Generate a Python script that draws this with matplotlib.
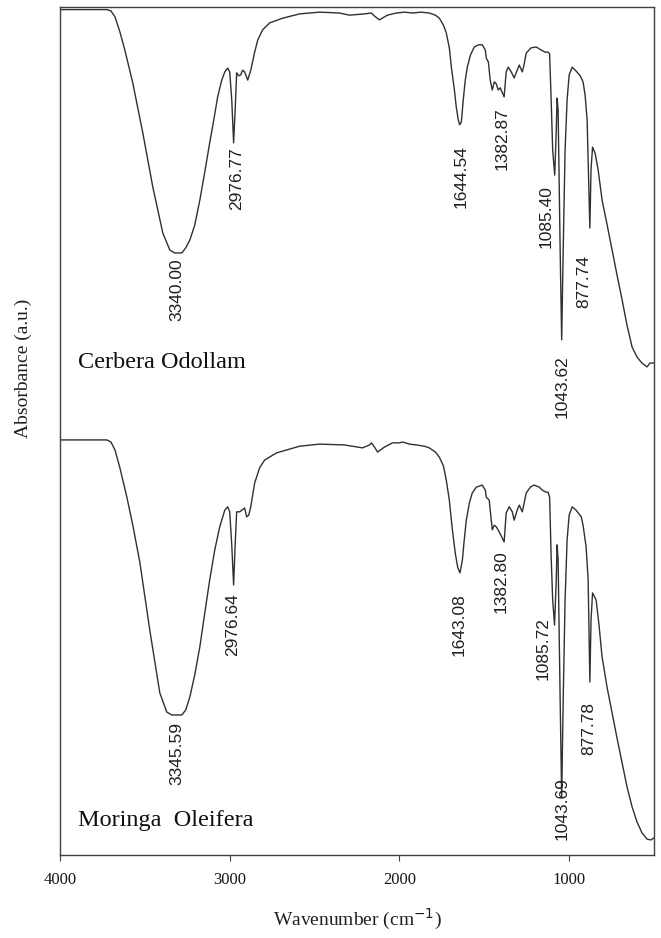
import matplotlib
matplotlib.use("Agg")
import matplotlib.pyplot as plt

# ---------------- data ----------------
wn_top = [4000, 3724, 3700, 3676, 3647, 3618, 3571, 3512, 3453, 3394, 3353, 3324, 3282, 3259,
          3235, 3206, 3176, 3147, 3118, 3094, 3071, 3047, 3029, 3012, 3000, 2988, 2977, 2968,
          2959, 2947, 2935, 2924, 2912, 2894, 2876, 2853, 2835, 2806, 2765, 2688, 2588, 2471,
          2353, 2294, 2206, 2165, 2147, 2118, 2071, 2018, 1971, 1924, 1871, 1824, 1788, 1765,
          1741, 1724, 1706, 1694, 1676, 1665, 1653, 1645, 1635, 1624, 1612, 1600, 1582, 1559,
          1535, 1512, 1494, 1488, 1476, 1465, 1453, 1441, 1429, 1418, 1406, 1383, 1371, 1359,
          1341, 1324, 1306, 1294, 1276, 1265, 1253, 1224, 1194, 1165, 1141, 1124, 1115, 1106,
          1097, 1085, 1076, 1071, 1065, 1053, 1044, 1035, 1024, 1012, 1000, 982, 959, 935, 918,
          906, 894, 885, 878, 871, 862, 847, 829, 806, 776, 747, 718, 688, 659, 629, 600, 571,
          541, 524, 500]
abs_top = [0.994, 0.994, 0.991, 0.977, 0.942, 0.900, 0.823, 0.707, 0.581, 0.474, 0.435, 0.428,
           0.428, 0.440, 0.458, 0.493, 0.551, 0.616, 0.684, 0.737, 0.791, 0.830, 0.849, 0.858,
           0.849, 0.784, 0.684, 0.760, 0.847, 0.840, 0.842, 0.853, 0.849, 0.830, 0.853, 0.895,
           0.923, 0.947, 0.963, 0.974, 0.984, 0.988, 0.986, 0.981, 0.984, 0.986, 0.979, 0.970,
           0.981, 0.986, 0.988, 0.986, 0.988, 0.986, 0.981, 0.974, 0.958, 0.940, 0.905, 0.860,
           0.807, 0.767, 0.737, 0.726, 0.733, 0.784, 0.830, 0.860, 0.888, 0.907, 0.912, 0.912,
           0.900, 0.881, 0.872, 0.830, 0.807, 0.826, 0.821, 0.807, 0.812, 0.791, 0.849, 0.860,
           0.849, 0.835, 0.853, 0.865, 0.849, 0.867, 0.893, 0.905, 0.907, 0.900, 0.895, 0.895,
           0.891, 0.784, 0.667, 0.609, 0.712, 0.788, 0.760, 0.435, 0.226, 0.435, 0.667, 0.784,
           0.842, 0.860, 0.851, 0.840, 0.826, 0.795, 0.737, 0.598, 0.486, 0.623, 0.674, 0.660,
           0.621, 0.551, 0.493, 0.435, 0.377, 0.319, 0.260, 0.209, 0.186, 0.172, 0.163, 0.172,
           0.172]

wn_bot = [4000, 3724, 3700, 3676, 3647, 3606, 3571, 3529, 3471, 3412, 3371, 3341, 3282, 3259,
          3235, 3206, 3176, 3147, 3118, 3088, 3059, 3029, 3012, 3000, 2988, 2977, 2968, 2959,
          2941, 2929, 2912, 2900, 2888, 2876, 2853, 2824, 2794, 2724, 2588, 2471, 2324, 2218,
          2176, 2165, 2147, 2129, 2088, 2041, 2000, 1982, 1941, 1900, 1853, 1824, 1788, 1765,
          1741, 1724, 1706, 1688, 1671, 1656, 1643, 1629, 1618, 1606, 1588, 1571, 1547, 1512,
          1494, 1488, 1471, 1459, 1453, 1441, 1429, 1412, 1394, 1383, 1371, 1353, 1335, 1324,
          1306, 1294, 1276, 1265, 1253, 1229, 1206, 1176, 1159, 1135, 1124, 1115, 1106, 1097,
          1086, 1076, 1071, 1065, 1053, 1044, 1035, 1024, 1012, 1000, 982, 959, 929, 918, 900,
          888, 878, 871, 862, 841, 824, 806, 776, 747, 718, 688, 659, 629, 600, 571, 541, 518,
          500]
abs_bot = [0.993, 0.993, 0.988, 0.969, 0.926, 0.856, 0.789, 0.699, 0.538, 0.388, 0.342, 0.335,
           0.335, 0.347, 0.378, 0.431, 0.498, 0.579, 0.658, 0.730, 0.785, 0.825, 0.833, 0.821,
           0.742, 0.646, 0.742, 0.821, 0.821, 0.825, 0.830, 0.809, 0.813, 0.833, 0.890, 0.926,
           0.945, 0.962, 0.978, 0.983, 0.981, 0.974, 0.981, 0.986, 0.976, 0.964, 0.976, 0.986,
           0.986, 0.988, 0.983, 0.981, 0.978, 0.974, 0.964, 0.952, 0.931, 0.897, 0.849, 0.778,
           0.722, 0.687, 0.675, 0.706, 0.754, 0.801, 0.842, 0.866, 0.880, 0.885, 0.873, 0.856,
           0.849, 0.801, 0.778, 0.789, 0.785, 0.773, 0.758, 0.749, 0.818, 0.833, 0.821, 0.801,
           0.825, 0.837, 0.821, 0.842, 0.866, 0.880, 0.885, 0.880, 0.873, 0.868, 0.868, 0.856,
           0.713, 0.610, 0.550, 0.658, 0.742, 0.706, 0.371, 0.139, 0.371, 0.610, 0.754, 0.813,
           0.833, 0.825, 0.809, 0.789, 0.737, 0.658, 0.414, 0.562, 0.627, 0.610, 0.550, 0.474,
           0.400, 0.340, 0.280, 0.220, 0.163, 0.115, 0.079, 0.053, 0.038, 0.036, 0.041]

peaks_top = ["3340.00", "2976.77", "1644.54", "1382.87", "1085.40", "1043.62", "877.74"]
peaks_bot = ["3345.59", "2976.64", "1643.08", "1382.80", "1085.72", "1043.69", "877.78"]
sample_names = ["Cerbera Odollam", "Moringa  Oleifera"]
xticks = [4000, 3000, 2000, 1000]

# ---------------- layout (label placement) ----------------
lab_x_top = [3312, 2959, 1635, 1394, 1135, 1041, 912]
lab_y_top = [0.416, 0.674, 0.679, 0.767, 0.586, 0.191, 0.423]
lab_x_bot = [3312, 2982, 1647, 1400, 1153, 1041, 882]
lab_y_bot = [0.318, 0.627, 0.627, 0.730, 0.569, 0.187, 0.366]

W, H = 661, 938
fig = plt.figure(figsize=(W / 100, H / 100), dpi=100)
left, right = 60 / W, 654 / W
ax_top = fig.add_axes([left, 1 - 437 / H, right - left, (437 - 7) / H])
ax_bot = fig.add_axes([left, 1 - 855 / H, right - left, (855 - 437) / H])

serif = "Liberation Serif"
sans = "Liberation Sans"
line_col = "#303030"
spine_col = "#404040"

for ax, wn, ab, peaks, lx, ly, name in [
    (ax_top, wn_top, abs_top, peaks_top, lab_x_top, lab_y_top, sample_names[0]),
    (ax_bot, wn_bot, abs_bot, peaks_bot, lab_x_bot, lab_y_bot, sample_names[1]),
]:
    ax.plot(wn, ab, color=line_col, lw=1.0)
    ax.set_xlim(4000, 500)
    ax.set_ylim(0, 1)
    ax.set_yticks([])
    for s in ax.spines.values():
        s.set_color(spine_col)
        s.set_linewidth(1.0)
    for txt, x, y in zip(peaks, lx, ly):
        ax.text(x, y, txt, rotation=90, ha="center", va="top",
                fontsize=12.5, family=sans, color="#202020")
    ax.text(0.031, 0.16 if ax is ax_top else 0.07, name, transform=ax.transAxes,
            fontsize=17.5, family=serif, color="#101010", ha="left", va="baseline")

ax_top.spines["bottom"].set_visible(False)
ax_top.set_xticks([])
ax_bot.spines["top"].set_visible(False)
ax_bot.set_xticks(xticks)
ax_bot.set_xticklabels([str(t) for t in xticks], family=serif, fontsize=12,
                       color="#151515")
ax_bot.tick_params(axis="x", direction="out", length=4, pad=8, color=spine_col)
ax_bot.set_xlabel("Wavenumber (cm$^{-1}$)", family=serif, fontsize=14,
                  labelpad=14, color="#202020")
fig.text(23 / W, 1 - 368 / H, "Absorbance (a.u.)", rotation=90, ha="center",
         va="center", family=serif, fontsize=14, color="#202020")

fig.savefig("out.png", dpi=100, facecolor="white")
